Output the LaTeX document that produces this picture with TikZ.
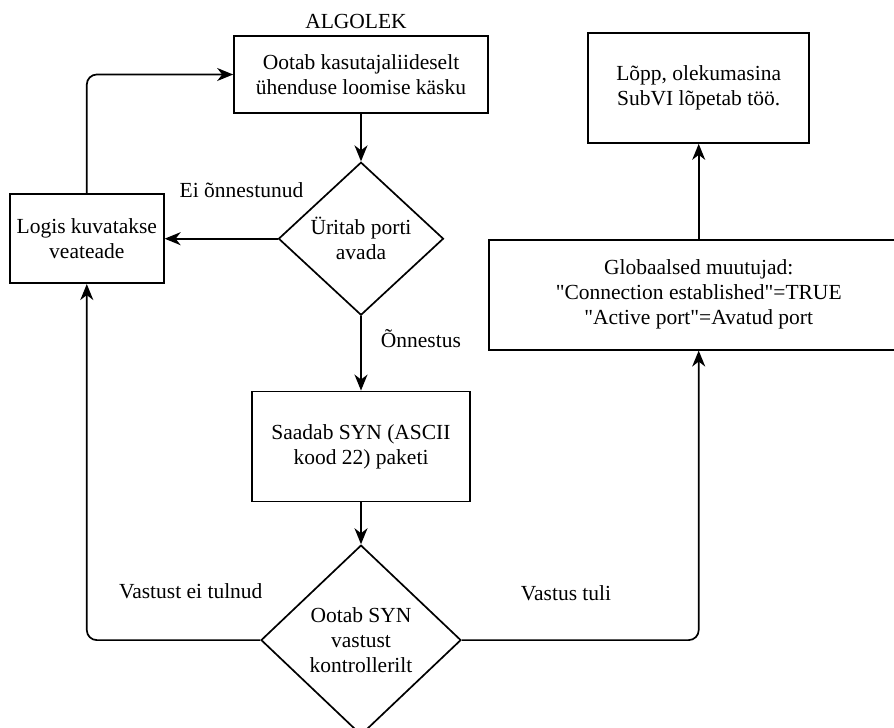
\documentclass[tikz,border=0pt]{standalone}
\usepackage{fontspec}
\setmainfont{Liberation Serif}
\usepackage{tikz}
\usetikzlibrary{arrows.meta, positioning, shapes.geometric}

\begin{document}
\begin{tikzpicture}[
  font=\fontsize{21.5}{25}\selectfont,
  process/.style={draw, line width=1.7pt, align=center, inner sep=0pt},
  decision/.style={diamond, draw, line width=1.7pt, align=center, inner sep=0pt, aspect=1.07},
  lbl/.style={inner sep=0pt},
  line/.style={draw, line width=1.7pt, -{Stealth[length=16pt, width=13pt, inset=5pt]}}
]
\useasboundingbox (0,0) rectangle (894pt,-728pt);

% Main column
\node (ootab) [process, minimum width=254pt, minimum height=77pt] at (361pt,-74.5pt)
  {Ootab kasutajaliideselt\\ühenduse loomise käsku};
\node (algolek) [lbl, anchor=south, xshift=-5pt] at ([yshift=6pt]ootab.north) {ALGOLEK};
\node (uritab) [decision, minimum width=165pt, minimum height=153pt, below=47.5pt of ootab]
  {Üritab porti\\avada};
\node (saadab) [process, minimum width=218pt, minimum height=110pt, below=74.5pt of uritab]
  {Saadab SYN (ASCII\\kood 22) paketi};
\node (vastust) [decision, minimum width=200pt, minimum height=190pt, below=42pt of saadab]
  {Ootab SYN\\vastust\\kontrollerilt};

% Error box
\node (logis) [process, minimum width=154pt, minimum height=89pt, left=113pt of uritab]
  {Logis kuvatakse\\veateade};

% Right side
\node (globaalsed) [process, minimum width=420pt, minimum height=110pt, right=43.5pt of uritab, yshift=-56pt]
  {Globaalsed muutujad:\\\textquotedbl Connection established\textquotedbl=TRUE\\\textquotedbl Active port\textquotedbl=Avatud port};
\node (lopp) [process, minimum width=221pt, minimum height=110pt, above=95pt of globaalsed]
  {Lõpp, olekumasina\\SubVI lõpetab töö.};

% Connections
\draw [line] (ootab) -- (uritab);
\draw [line] (uritab) -- node (einonn) [lbl, pos=0.32, above=40pt] {Ei õnnestunud} (logis);
\draw [line] (uritab) -- node (onnestus) [lbl, pos=0.3, right=19pt] {Õnnestus} (saadab);
\draw [line] (saadab) -- (vastust);
\draw [line, rounded corners=10pt] (vastust.west) -| node (eitulnud) [lbl, pos=0.2, above=40pt] {Vastust ei tulnud} (logis.south);
\draw [line, rounded corners=10pt] (vastust.east) -| node (tuli) [lbl, pos=0.22, above=38pt] {Vastus tuli} (globaalsed.south);
\draw [line] (globaalsed) -- (lopp);
\draw [line, rounded corners=10pt] (logis.north) |- (ootab.west);

\end{tikzpicture}
\end{document}
